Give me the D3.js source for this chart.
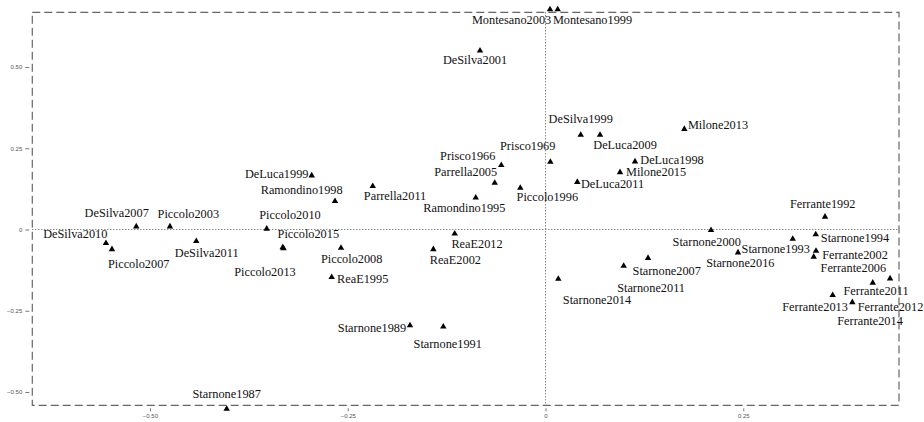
<!DOCTYPE html>
<html>
<head>
<meta charset="utf-8">
<script src="https://cdn.jsdelivr.net/npm/d3@7"></script>
<style>
    body { margin: 0; background: #fff; }
    svg { display: block; }
</style>
</head>
<body>
<div id="chart"></div>
<script>
// texts (one per document)
var names = ["Montesano2003", "Montesano1999", "DeSilva2001", "DeSilva1999", "DeLuca2009", "Milone2013",
    "Prisco1969", "Prisco1966", "Parrella2005", "Piccolo1996", "Ramondino1995", "Parrella2011",
    "Ramondino1998", "DeLuca1999", "DeLuca1998", "Milone2015", "DeLuca2011", "Ferrante1992",
    "DeSilva2007", "Piccolo2003", "Piccolo2010", "DeSilva2010", "Piccolo2007", "DeSilva2011",
    "Piccolo2015", "Piccolo2013", "Piccolo2008", "ReaE2012", "ReaE2002", "ReaE1995",
    "Starnone1989", "Starnone1991", "Starnone2014", "Starnone1987", "Starnone2000", "Starnone2007",
    "Starnone2011", "Starnone2016", "Starnone1993", "Starnone1994", "Ferrante2002", "Ferrante2006",
    "Ferrante2011", "Ferrante2012", "Ferrante2013", "Ferrante2014"];

// point coordinates (dimension 1 / dimension 2)
var dim1 = [0.0057, 0.0154, -0.0828, 0.0445, 0.0689, 0.1755,
    0.0061, -0.0559, -0.0642, -0.0319, -0.0882, -0.2184,
    -0.2661, -0.2955, 0.1131, 0.0942, 0.0402, 0.3533,
    -0.5173, -0.4747, -0.3524, -0.5556, -0.5480, -0.4414,
    -0.3322, -0.3312, -0.2585, -0.1148, -0.1418, -0.2703,
    -0.1713, -0.1292, 0.0162, -0.4030, 0.2092, 0.1296,
    0.0988, 0.2433, 0.3125, 0.3416, 0.3419, 0.3390,
    0.4136, 0.4355, 0.3630, 0.3878];
var dim2 = [0.677, 0.677, 0.550, 0.291, 0.291, 0.309,
    0.208, 0.198, 0.143, 0.128, 0.098, 0.133,
    0.087, 0.166, 0.209, 0.176, 0.146, 0.039,
    0.009, 0.009, 0.002, -0.042, -0.061, -0.036,
    -0.055, -0.058, -0.057, -0.013, -0.061, -0.147,
    -0.295, -0.299, -0.152, -0.552, -0.002, -0.088,
    -0.112, -0.071, -0.029, -0.015, -0.066, -0.084,
    -0.164, -0.151, -0.202, -0.224];

// where the text labels were placed (repelled from the points)
var labelX = [-0.0429, 0.0594, -0.0891, 0.0445, 0.1005, 0.2180,
    -0.0225, -0.0983, -0.1009, 0.0023, -0.1026, -0.1902,
    -0.3082, -0.3398, 0.1599, 0.1397, 0.0847, 0.3504,
    -0.5420, -0.4515, -0.3230, -0.5944, -0.5142, -0.4283,
    -0.2998, -0.3546, -0.2450, -0.0866, -0.1140, -0.2311,
    -0.2193, -0.1236, 0.0651, -0.4030, 0.2038, 0.1532,
    0.1334, 0.2462, 0.2910, 0.3912, 0.3912, 0.3891,
    0.4178, 0.4361, 0.3407, 0.4102];
var labelY = [0.645, 0.645, 0.522, 0.342, 0.262, 0.322,
    0.257, 0.226, 0.177, 0.100, 0.067, 0.105,
    0.122, 0.173, 0.216, 0.177, 0.142, 0.078,
    0.052, 0.049, 0.045, -0.012, -0.106, -0.072,
    -0.012, -0.131, -0.089, -0.044, -0.094, -0.152,
    -0.303, -0.350, -0.217, -0.504, -0.039, -0.128,
    -0.179, -0.102, -0.059, -0.024, -0.078, -0.119,
    -0.189, -0.238, -0.238, -0.282];

var xTicks = [-0.5, -0.25, 0, 0.25];
var yTicks = [-0.5, -0.25, 0, 0.25, 0.5];
var xDomain = [-0.6487, 0.4468];
var yDomain = [-0.541, 0.6683];

var width = 924, height = 422;
var plot = {left: 32.3, right: 899, top: 12.3, bottom: 405.3};

var svg = d3.select("#chart").append("svg")
    .attr("width", width).attr("height", height);

var x = d3.scaleLinear().domain(xDomain).range([plot.left, plot.right]);
var y = d3.scaleLinear().domain(yDomain).range([plot.bottom, plot.top]);

var tickFormat = function(d){
    if (d === 0) return "0";
    return d3.format(".2f")(d);
};

// axes sit a little outside the frame, ggplot style
var xAxis = svg.append("g")
    .attr("transform", "translate(0," + (plot.bottom + 3) + ")")
    .call(d3.axisBottom(x).tickValues(xTicks).tickFormat(tickFormat).tickSize(3).tickPadding(2));
var yAxis = svg.append("g")
    .attr("transform", "translate(" + (plot.left - 3) + ",0)")
    .call(d3.axisLeft(y).tickValues(yTicks).tickFormat(tickFormat).tickSize(4).tickPadding(3));

[xAxis, yAxis].forEach(function(a){
    a.select(".domain").remove();
    a.selectAll("line").attr("stroke", "#555").attr("stroke-width", 0.8);
    a.selectAll("text").attr("fill", "#555").style("font-family", "Liberation Sans, Arial, sans-serif").style("font-size", "6px");
});

// reference lines at zero
svg.append("line")
    .attr("x1", plot.left).attr("x2", plot.right)
    .attr("y1", y(0)).attr("y2", y(0))
    .attr("stroke", "#555").attr("stroke-width", 1).attr("stroke-dasharray", "1,2");
svg.append("line")
    .attr("x1", x(0)).attr("x2", x(0))
    .attr("y1", plot.top).attr("y2", plot.bottom)
    .attr("stroke", "#555").attr("stroke-width", 1).attr("stroke-dasharray", "1,2");

// dashed frame
svg.append("rect")
    .attr("x", plot.left).attr("y", plot.top)
    .attr("width", plot.right - plot.left).attr("height", plot.bottom - plot.top)
    .attr("fill", "none").attr("stroke", "#666").attr("stroke-width", 1.2)
    .attr("stroke-dasharray", "8,4");

var data = names.map(function(n, i){
    return {name: n, x: dim1[i], y: dim2[i], lx: labelX[i], ly: labelY[i]};
});

var tri = d3.symbol().type(d3.symbolTriangle).size(18);

svg.append("g").selectAll("path").data(data).enter().append("path")
    .attr("d", tri)
    .attr("transform", function(d){ return "translate(" + x(d.x) + "," + y(d.y) + ")"; })
    .attr("fill", "#000");

svg.append("g").selectAll("text").data(data).enter().append("text")
    .attr("x", function(d){ return x(d.lx); })
    .attr("y", function(d){ return y(d.ly); })
    .attr("dy", "0.35em")
    .attr("text-anchor", "middle")
    .style("font-family", "Liberation Serif, Times New Roman, serif")
    .style("font-size", "12.3px")
    .attr("fill", "#111")
    .text(function(d){ return d.name; });
</script>
</body>
</html>
